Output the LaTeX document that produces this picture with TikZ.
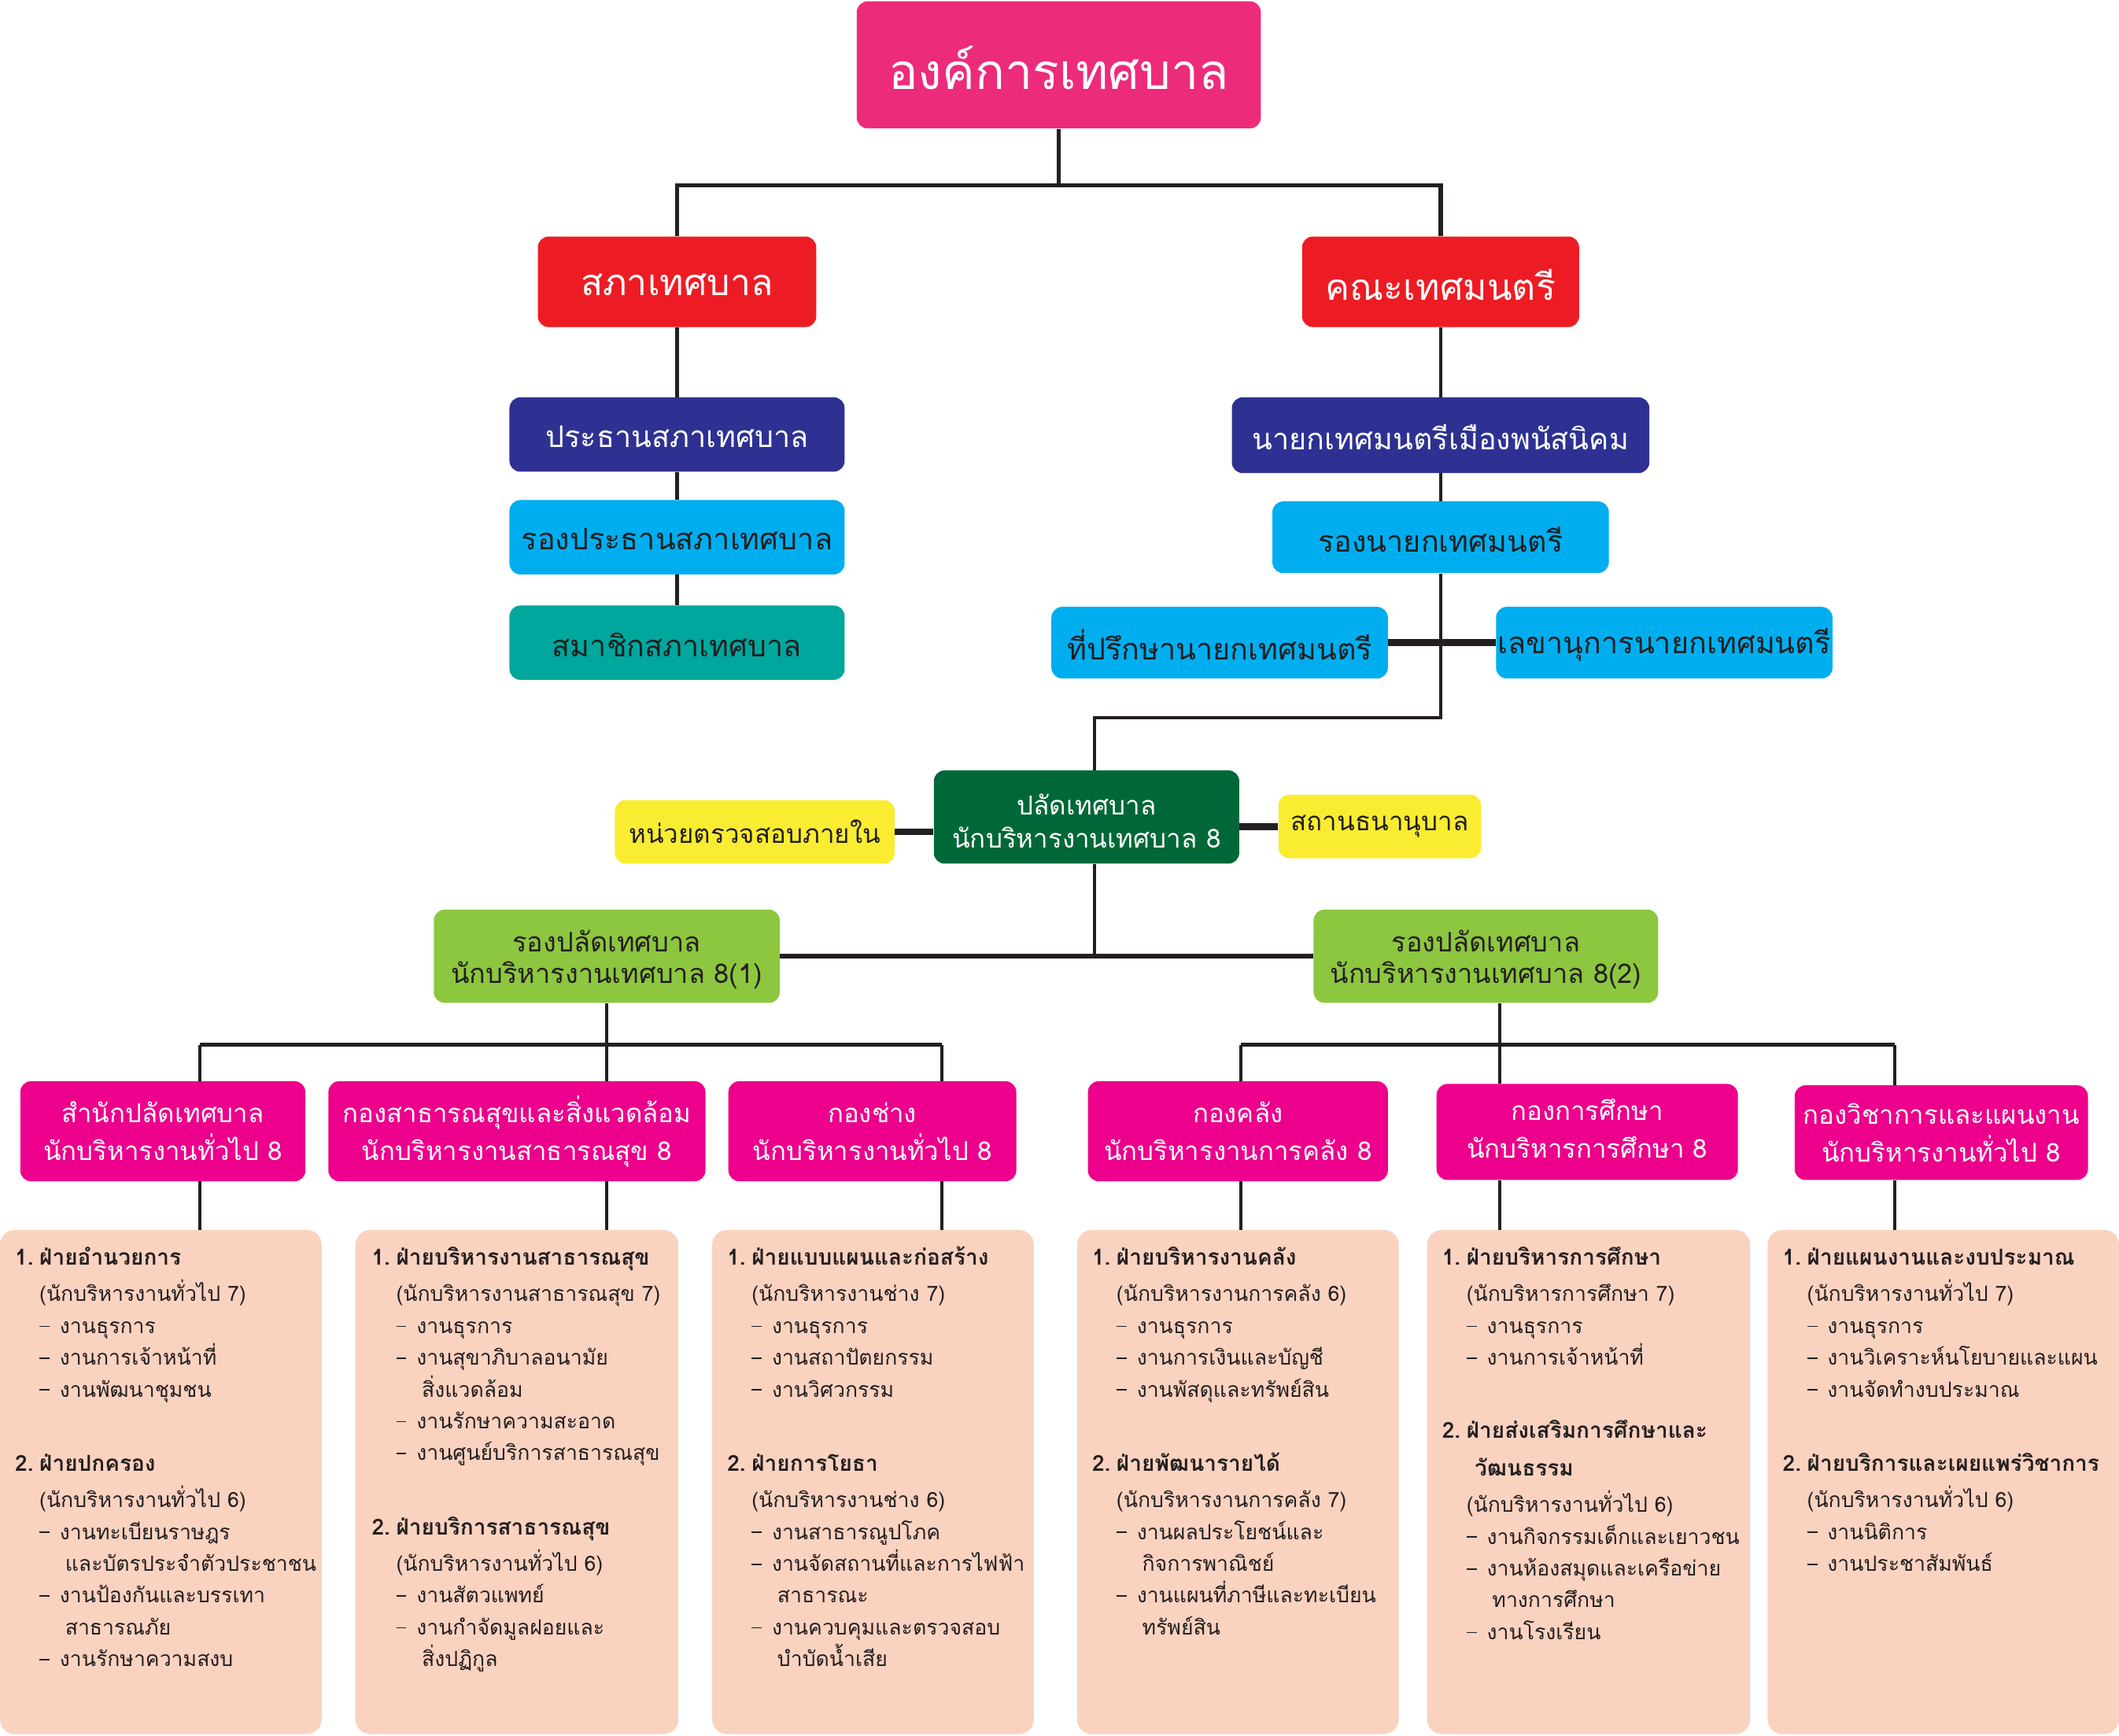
\documentclass[tikz,border=0pt]{standalone}
\usepackage{fontspec}
\newfontfamily\thai[Script=Thai]{Loma}
\definecolor{cTop}{RGB}{237,43,123}
\definecolor{cRed}{RGB}{237,28,36}
\definecolor{cNavy}{RGB}{46,49,146}
\definecolor{cCyan}{RGB}{0,174,239}
\definecolor{cTeal}{RGB}{0,167,157}
\definecolor{cGreenD}{RGB}{0,104,56}
\definecolor{cYellow}{RGB}{249,236,49}
\definecolor{cGreenL}{RGB}{141,198,63}
\definecolor{cMag}{RGB}{236,0,140}
\definecolor{cPeach}{RGB}{250,210,192}
\definecolor{cInk}{RGB}{35,31,32}
\normallineskiplimit=-100pt
\lineskiplimit=-100pt
\newcommand\ia{\hspace*{18pt}}
\newcommand\ib{\hspace*{37pt}}
\newcommand\dd{\makebox[15pt][l]{\rule[4.6pt]{7.5pt}{1.1pt}}}
\newcommand\hd[2]{{\fontsize{16.3}{23.5}\selectfont\bfseries\makebox[18pt][l]{#1}#2}}
\begin{document}
\begin{tikzpicture}[x=1pt,y=-1pt,
  bx/.style={rounded corners=8pt, inner sep=0pt},
  lw/.style={inner sep=0pt, align=center, text=white},
  ld/.style={inner sep=0pt, align=center, text=cInk},
  conn/.style={draw=cInk, line width=2.4pt},
  bar/.style={draw=cInk, line width=3.2pt},
  side/.style={draw=cInk, line width=5pt},
  peach/.style={fill=cPeach, rounded corners=11pt, inner sep=0pt},
  ptext/.style={anchor=base west, inner sep=0pt, text width=300pt, align=left, text=cInk, font=\thai\fontsize{15.5}{23.5}\selectfont},
  fTop/.style={font=\thai\fontsize{36.5}{40}\selectfont},
  fRed/.style={font=\thai\fontsize{27}{32}\selectfont},
  fMid/.style={font=\thai\fontsize{22}{26}\selectfont},
  fSm/.style={font=\thai\fontsize{19.3}{24}\selectfont},
  fGr/.style={font=\thai\fontsize{20}{23.5}\selectfont},
  fPk/.style={font=\thai\fontsize{19.2}{28}\selectfont},
]
\useasboundingbox (0,0) rectangle (1568,1284);

% ---------- boxes ----------
\node[bx, fill=cTop, minimum width=299pt, minimum height=94pt] (top) at (783.5,48) {};
\node[lw, fTop] (top-t) at ([yshift=-2pt]top.center) {องค์การเทศบาล};

\node[bx, fill=cRed, minimum width=206pt, minimum height=67pt] (sapha) at (501,208.5) {};
\node[lw, fRed] (sapha-t) at ([yshift=-2pt]sapha.center) {สภาเทศบาล};
\node[bx, fill=cRed, minimum width=205pt, minimum height=67pt] (khana) at (1066,208.5) {};
\node[lw, fRed] (khana-t) at ([yshift=-2pt]khana.center) {คณะเทศมนตรี};

\node[bx, fill=cNavy, minimum width=248pt, minimum height=55pt] (pres) at (501,321.5) {};
\node[lw, fMid] (pres-t) at ([yshift=-1.5pt]pres.center) {ประธานสภาเทศบาล};
\node[bx, fill=cCyan, minimum width=248pt, minimum height=55pt] (vpres) at (501,397.5) {};
\node[ld, fMid] (vpres-t) at ([yshift=-1.5pt]vpres.center) {รองประธานสภาเทศบาล};
\node[bx, fill=cTeal, minimum width=248pt, minimum height=55pt] (member) at (501,475.5) {};
\node[ld, fMid] (member-t) at ([yshift=-1.5pt]member.center) {สมาชิกสภาเทศบาล};

\node[bx, fill=cNavy, minimum width=309pt, minimum height=56pt] (mayor) at (1066,322) {};
\node[lw, fMid] (mayor-t) at ([yshift=-1.5pt]mayor.center) {นายกเทศมนตรีเมืองพนัสนิคม};
\node[bx, fill=cCyan, minimum width=249pt, minimum height=53pt] (dmayor) at (1066,397.5) {};
\node[ld, fMid] (dmayor-t) at ([yshift=-1.5pt]dmayor.center) {รองนายกเทศมนตรี};
\node[bx, fill=cCyan, minimum width=249pt, minimum height=53pt] (adv) at (902.5,475.5) {};
\node[ld, fMid] (adv-t) at ([yshift=-1.5pt]adv.center) {ที่ปรึกษานายกเทศมนตรี};
\node[bx, fill=cCyan, minimum width=249pt, minimum height=53pt] (sec) at (1231.5,475.5) {};
\node[ld, fMid] (sec-t) at ([yshift=-1.5pt]sec.center) {เลขานุการนายกเทศมนตรี};

\node[bx, fill=cGreenD, minimum width=226pt, minimum height=69pt] (palat) at (804,604.5) {};
\node[lw, fSm] (palat-t) at ([yshift=-3pt]palat.center) {ปลัดเทศบาล\\นักบริหารงานเทศบาล 8};
\node[bx, fill=cYellow, minimum width=207pt, minimum height=47pt] (audit) at (558.5,615.5) {};
\node[ld, fSm] (audit-t) at (audit.center) {หน่วยตรวจสอบภายใน};
\node[bx, fill=cYellow, minimum width=150pt, minimum height=47pt] (pawn) at (1021,611.5) {};
\node[ld, fSm] (pawn-t) at (pawn.center) {สถานธนานุบาล};

\node[bx, fill=cGreenL, minimum width=256pt, minimum height=69pt] (dp1) at (449,707.5) {};
\node[ld, fGr] (dp1-t) at ([yshift=-2.5pt]dp1.center) {รองปลัดเทศบาล\\นักบริหารงานเทศบาล 8(1)};
\node[bx, fill=cGreenL, minimum width=255pt, minimum height=69pt] (dp2) at (1099.5,707.5) {};
\node[ld, fGr] (dp2-t) at ([yshift=-2.5pt]dp2.center) {รองปลัดเทศบาล\\นักบริหารงานเทศบาล 8(2)};

\node[bx, fill=cMag, minimum width=211pt, minimum height=74pt] (k1) at (120.5,837) {};
\node[lw, fPk] (k1-t) at (k1.center) {สำนักปลัดเทศบาล\\นักบริหารงานทั่วไป 8};
\node[bx, fill=cMag, minimum width=279pt, minimum height=74pt] (k2) at (382.5,837) {};
\node[lw, fPk] (k2-t) at (k2.center) {กองสาธารณสุขและสิ่งแวดล้อม\\นักบริหารงานสาธารณสุข 8};
\node[bx, fill=cMag, minimum width=213pt, minimum height=74pt] (k3) at (645.5,837) {};
\node[lw, fPk] (k3-t) at (k3.center) {กองช่าง\\นักบริหารงานทั่วไป 8};
\node[bx, fill=cMag, minimum width=222pt, minimum height=74pt] (k4) at (916,837) {};
\node[lw, fPk] (k4-t) at (k4.center) {กองคลัง\\นักบริหารงานการคลัง 8};
\node[bx, fill=cMag, minimum width=223pt, minimum height=71pt] (k5) at (1174.5,837.5) {};
\node[lw, fPk] (k5-t) at ([yshift=2.5pt]k5.center) {กองการศึกษา\\นักบริหารการศึกษา 8};
\node[bx, fill=cMag, minimum width=217pt, minimum height=70pt] (k6) at (1436.5,838) {};
\node[lw, fPk] (k6-t) at (k6.center) {กองวิชาการและแผนงาน\\นักบริหารงานทั่วไป 8};

\node[peach, minimum width=238pt, minimum height=373pt] (p1) at (119,1096.5) {};
\node[peach, minimum width=239pt, minimum height=373pt] (p2) at (382.5,1096.5) {};
\node[peach, minimum width=238pt, minimum height=373pt] (p3) at (646,1096.5) {};
\node[peach, minimum width=238pt, minimum height=373pt] (p4) at (916,1096.5) {};
\node[peach, minimum width=239pt, minimum height=373pt] (p5) at (1175.5,1096.5) {};
\node[peach, minimum width=260pt, minimum height=373pt] (p6) at (1438,1096.5) {};

% ---------- peach texts ----------
\node[ptext] (t1) at (11,936) {\hd{1.}{ฝ่ายอำนวยการ}\\[3.5pt]
\ia(นักบริหารงานทั่วไป 7)\\
\ia\dd งานธุรการ\\
\ia\dd งานการเจ้าหน้าที่\\
\ia\dd งานพัฒนาชุมชน\\[31.5pt]
\hd{2.}{ฝ่ายปกครอง}\\[3.5pt]
\ia(นักบริหารงานทั่วไป 6)\\
\ia\dd งานทะเบียนราษฎร\\
\ib และบัตรประจำตัวประชาชน\\
\ia\dd งานป้องกันและบรรเทา\\
\ib สาธารณภัย\\
\ia\dd งานรักษาความสงบ};

\node[ptext] (t2) at (275,936) {\hd{1.}{ฝ่ายบริหารงานสาธารณสุข}\\[3.5pt]
\ia(นักบริหารงานสาธารณสุข 7)\\
\ia\dd งานธุรการ\\
\ia\dd งานสุขาภิบาลอนามัย\\
\ib สิ่งแวดล้อม\\
\ia\dd งานรักษาความสะอาด\\
\ia\dd งานศูนย์บริการสาธารณสุข\\[31.5pt]
\hd{2.}{ฝ่ายบริการสาธารณสุข}\\[3.5pt]
\ia(นักบริหารงานทั่วไป 6)\\
\ia\dd งานสัตวแพทย์\\
\ia\dd งานกำจัดมูลฝอยและ\\
\ib สิ่งปฏิกูล};

\node[ptext] (t3) at (538,936) {\hd{1.}{ฝ่ายแบบแผนและก่อสร้าง}\\[3.5pt]
\ia(นักบริหารงานช่าง 7)\\
\ia\dd งานธุรการ\\
\ia\dd งานสถาปัตยกรรม\\
\ia\dd งานวิศวกรรม\\[31.5pt]
\hd{2.}{ฝ่ายการโยธา}\\[3.5pt]
\ia(นักบริหารงานช่าง 6)\\
\ia\dd งานสาธารณูปโภค\\
\ia\dd งานจัดสถานที่และการไฟฟ้า\\
\ib สาธารณะ\\
\ia\dd งานควบคุมและตรวจสอบ\\
\ib บำบัดน้ำเสีย};

\node[ptext] (t4) at (808,936) {\hd{1.}{ฝ่ายบริหารงานคลัง}\\[3.5pt]
\ia(นักบริหารงานการคลัง 6)\\
\ia\dd งานธุรการ\\
\ia\dd งานการเงินและบัญชี\\
\ia\dd งานพัสดุและทรัพย์สิน\\[31.5pt]
\hd{2.}{ฝ่ายพัฒนารายได้}\\[3.5pt]
\ia(นักบริหารงานการคลัง 7)\\
\ia\dd งานผลประโยชน์และ\\
\ib กิจการพาณิชย์\\
\ia\dd งานแผนที่ภาษีและทะเบียน\\
\ib ทรัพย์สิน};

\node[ptext] (t5) at (1067,936) {\hd{1.}{ฝ่ายบริหารการศึกษา}\\[3.5pt]
\ia(นักบริหารการศึกษา 7)\\
\ia\dd งานธุรการ\\
\ia\dd งานการเจ้าหน้าที่\\[30.5pt]
\hd{2.}{ฝ่ายส่งเสริมการศึกษาและ}\\[4.5pt]
\hd{}{\hspace*{6pt}วัฒนธรรม}\\[3.5pt]
\ia(นักบริหารงานทั่วไป 6)\\
\ia\dd งานกิจกรรมเด็กและเยาวชน\\
\ia\dd งานห้องสมุดและเครือข่าย\\
\ib ทางการศึกษา\\
\ia\dd งานโรงเรียน};

\node[ptext] (t6) at (1319,936) {\hd{1.}{ฝ่ายแผนงานและงบประมาณ}\\[3.5pt]
\ia(นักบริหารงานทั่วไป 7)\\
\ia\dd งานธุรการ\\
\ia\dd งานวิเคราะห์นโยบายและแผน\\
\ia\dd งานจัดทำงบประมาณ\\[31.5pt]
\hd{2.}{ฝ่ายบริการและเผยแพร่วิชาการ}\\[3.5pt]
\ia(นักบริหารงานทั่วไป 6)\\
\ia\dd งานนิติการ\\
\ia\dd งานประชาสัมพันธ์};

% ---------- connectors ----------
\coordinate (j0) at (783.5,137);
\draw[bar] (top.south) -- (j0);
\draw[bar] (j0) -| (sapha.north);
\draw[bar] (j0) -| (khana.north);

\draw[conn] (sapha.south) -- (pres.north);
\draw[conn] (pres.south) -- (vpres.north);
\draw[conn] (vpres.south) -- (member.north);

\draw[conn] (khana.south) -- (mayor.north);
\draw[conn] (mayor.south) -- (dmayor.north);
\coordinate (j1) at (1066,531);
\coordinate (j2) at (810,531);
\draw[conn] (dmayor.south) -- (j1) -- (j2) -- (j2 |- palat.north);
\draw[side] (adv.east) -- (sec.west);

\draw[side] (audit.east) -- (audit.east -| palat.west);
\draw[side] (pawn.west) -- (pawn.west -| palat.east);

\draw[conn] (j2 |- palat.south) -- (j2 |- dp1.east);
\draw[bar] (dp1.east) -- (dp2.west);

\coordinate (b1) at (148,773);
\coordinate (b2) at (449,773);
\coordinate (b3) at (697,773);
\coordinate (b4) at (918,773);
\coordinate (b5) at (1110,773);
\coordinate (b6) at (1402,773);
\draw[conn] (dp1.south) -- (b2);
\draw[conn] (b5 |- dp2.south) -- (b5);
\draw[bar] (b1) -- (b3);
\draw[bar] (b4) -- (b6);
\foreach \i in {1,...,6} {
  \draw[conn] (b\i) -- (b\i |- k\i.north);
  \draw[conn] (b\i |- k\i.south) -- (b\i |- p\i.north);
}
\end{tikzpicture}
\end{document}
